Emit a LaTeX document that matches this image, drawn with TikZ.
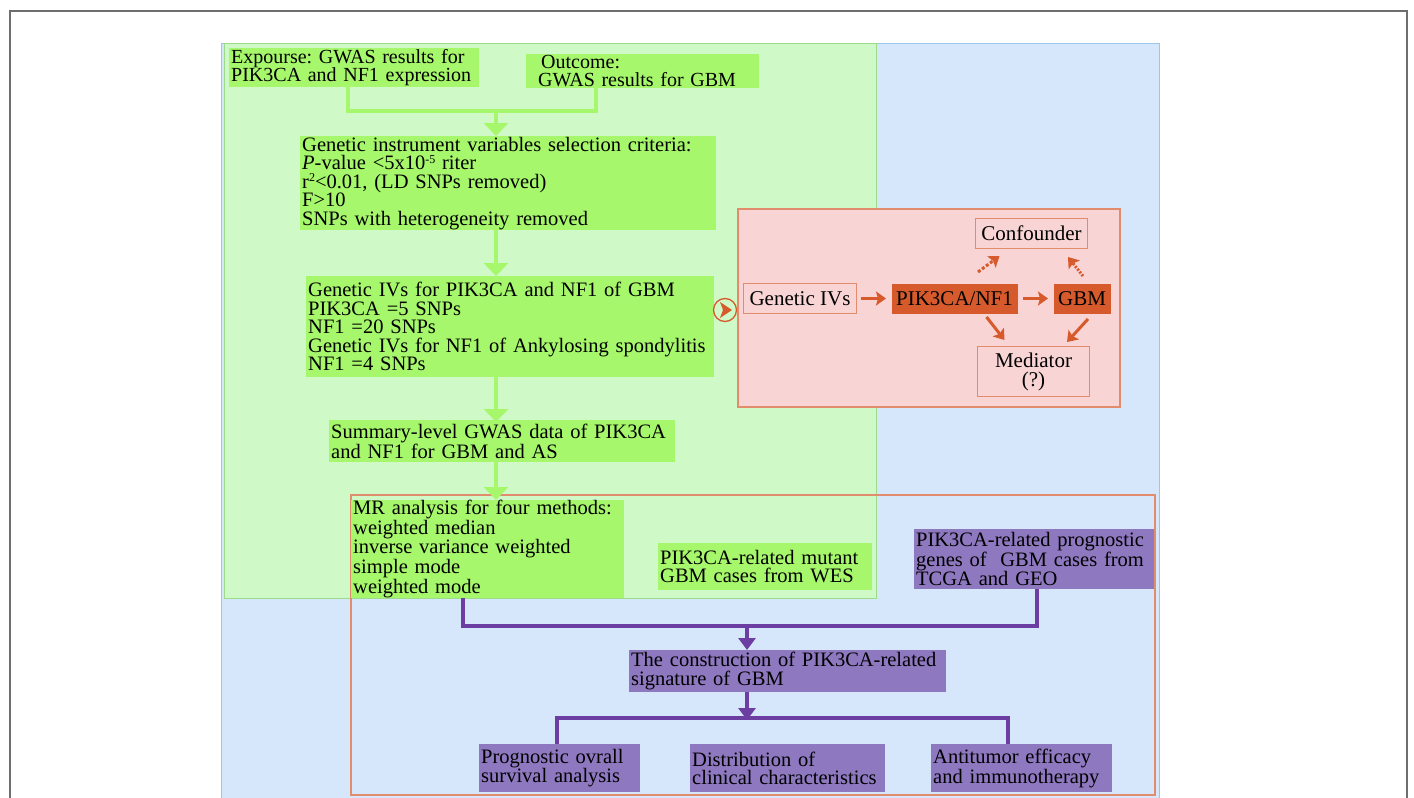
\documentclass[tikz,border=0pt]{standalone}
\usepackage{fontspec}
\setmainfont{Liberation Serif}
\usepackage{tikz}
\usetikzlibrary{arrows.meta, positioning}
\frenchspacing
\definecolor{menta}{RGB}{207, 250, 200}
\definecolor{bordementa}{RGB}{156, 219, 138}
\definecolor{lima}{RGB}{166, 247, 107}
\definecolor{cielo}{RGB}{214, 231, 251}
\definecolor{bordecielo}{RGB}{157, 198, 232}
\definecolor{rosado}{RGB}{249, 212, 212}
\definecolor{salmon}{RGB}{226, 140, 110}
\definecolor{ladrillo}{RGB}{214, 90, 43}
\definecolor{lila}{RGB}{142, 120, 192}
\definecolor{uva}{RGB}{108, 62, 162}
\definecolor{gris}{RGB}{110, 110, 110}
\newcommand{\supind}[1]{\raisebox{0.3em}{\fontsize{12}{12}\selectfont #1}}
\tikzset{
    gbox/.style={anchor=north west, fill=lima, align=left, inner xsep=2pt, inner ysep=0pt},
    pbox/.style={gbox, fill=lila},
    obox/.style={anchor=north west, draw=salmon, fill=rosado, align=center, inner sep=0pt, line width=1pt, font=\fontsize{21}{19}\selectfont},
    dbox/.style={obox, draw=none, fill=ladrillo},
    gline/.style={lima, line width=4pt},
    garr/.style={gline, -{Triangle[width=24pt, length=13pt]}},
    pline/.style={uva, line width=3.5pt},
    parr/.style={pline, -{Triangle[width=17pt, length=12pt]}},
    oarr/.style={ladrillo, line width=3pt, -{Stealth[width=14pt, length=10pt, inset=2pt]}},
    chico/.style={font=\fontsize{20}{18.5}\selectfont},
}
\begin{document}
\begin{tikzpicture}[x=1pt, y=-1pt, font=\fontsize{20.5}{18.5}\selectfont]
    \useasboundingbox (0,0) rectangle (1414,798);
    % paneles de fondo
    \draw[gris, line width=1.5pt] (10,805) -- (10,11) -- (1407,11) -- (1407,805);
    \filldraw[fill=cielo, draw=bordecielo, line width=1pt] (221,43) rectangle (1159,810);
    \filldraw[fill=menta, draw=bordementa, line width=1pt] (224,43) rectangle (876,598);
    \filldraw[fill=rosado, draw=salmon, line width=1.2pt] (738,209) rectangle (1120,407);
    \draw[salmon, line width=1.5pt] (351,495) rectangle (1155,795);

    % columna verde
    \node[gbox, chico, text width=246pt, minimum height=39pt] (expo) at (229,48) {Expourse: GWAS results for\\PIK3CA and NF1 expression};
    \node[gbox, chico, inner xsep=12pt, text width=209pt, minimum height=34pt] (outc) at (526,54) {\hspace*{3pt}Outcome:\\GWAS results for GBM};
    \node[gbox, text width=412pt, minimum height=94pt] (crit) at (300,136) {Genetic instrument variables selection criteria:\\\textit{P}-value <5x10\supind{-5} riter\\r\supind{2}<0.01, (LD SNPs removed)\\F>10\\SNPs with heterogeneity removed};
    \node[gbox, text width=404pt, minimum height=101pt] (ivs) at (306,276) {Genetic IVs for PIK3CA and NF1 of GBM\\PIK3CA =5 SNPs\\NF1 =20 SNPs\\Genetic IVs for NF1 of Ankylosing spondylitis\\NF1 =4 SNPs};
    \node[gbox, text width=342pt, minimum height=42pt] (summ) at (329,420) {Summary-level GWAS data of PIK3CA\\and NF1 for GBM and AS};
    \node[gbox, text width=269pt, minimum height=97pt] (mr) at (351,500) {MR analysis for four methods:\\weighted median\\inverse variance weighted\\simple mode\\weighted mode};
    \node[gbox, text width=210pt, minimum height=47pt] (mut) at (658,543) {PIK3CA-related mutant\\GBM cases from WES};

    % columna lila
    \node[pbox, text width=236pt, minimum height=60pt] (prog) at (914,529) {PIK3CA-related prognostic\\genes of\ \ GBM cases from\\TCGA and GEO};
    \node[pbox, text width=313pt, minimum height=42pt] (sig) at (629,650) {The construction of PIK3CA-related\\signature of GBM};
    \node[pbox, text width=157pt, minimum height=48pt] (surv) at (479,744) {Prognostic ovrall\\survival analysis};
    \node[pbox, text width=191pt, minimum height=48pt] (clin) at (690,744) {Distribution of\\clinical characteristics};
    \node[pbox, text width=177pt, minimum height=48pt] (immu) at (931,744) {Antitumor efficacy\\and immunotherapy};

    % recuadro rosado
    \node[obox, minimum width=113pt, minimum height=30pt] (givs) at (743,283) {Genetic IVs};
    \node[dbox, minimum width=126pt, minimum height=30pt] (gene) at (891,283) {PIK3CA/NF1};
    \node[dbox, minimum width=57pt, minimum height=30pt] (gbm) at (1053,283) {GBM};
    \node[obox, minimum width=112pt, minimum height=30pt] (conf) at (975,218) {Confounder};
    \node[obox, minimum width=112pt, minimum height=50pt] (medi) at (977,346) {Mediator\\(?)};
    \node[circle, draw=ladrillo, line width=1.3pt, minimum size=23pt, inner sep=0pt] (enlace) at (725,310) {};
    \fill[ladrillo] ([shift={(-5,-8)}]enlace.center) -- ([shift={(7,0)}]enlace.center) -- ([shift={(-5,8)}]enlace.center) -- ([shift={(-2,0)}]enlace.center) -- cycle;

    \draw[oarr] ([xshift=4pt]givs.east) -- ([xshift=-5pt]gene.west);
    \draw[oarr] ([xshift=5pt]gene.east) -- ([xshift=-5pt]gbm.west);
    \draw[oarr, dash pattern=on 3pt off 2pt] ([shift={(-40,-11)}]gene.north east) -- ([shift={(-32,7)}]conf.south);
    \draw[oarr, dash pattern=on 2pt off 1.5pt] ([shift={(1,-7)}]gbm.north) -- ([shift={(-20,8)}]conf.south east);
    \draw[oarr] ([shift={(32,3)}]gene.south) -- ([shift={(-29,-6)}]medi.north);
    \draw[oarr] ([shift={(6,5)}]gbm.south) -- ([shift={(-23,-4)}]medi.north east);

    % conectores verdes
    \coordinate (eje) at (496,111);
    \coordinate (jizq) at (348,111);
    \coordinate (jder) at (596,111);
    \draw[gline] (jizq |- expo.south) -- (jizq) -- (jder) -- (jder |- outc.south);
    \draw[garr] ([yshift=-2pt]eje) -- (eje |- crit.north);
    \draw[garr] ([yshift=2pt]eje |- crit.south) -- (eje |- ivs.north);
    \draw[garr] ([yshift=4pt]eje |- ivs.south) -- ([yshift=-2pt]eje |- summ.north);
    \draw[garr] ([yshift=2pt]eje |- summ.south) -- (eje |- mr.north);

    % conectores lila
    \coordinate (lizq) at (463,626);
    \coordinate (lder) at (1037,626);
    \coordinate (lmed) at (747,626);
    \draw[pline] (lizq |- mr.south) -- (lizq) -- (lder) -- (lder |- prog.south);
    \draw[parr] ([yshift=-2pt]lmed) -- (lmed |- sig.north);
    \coordinate (bmed) at (747,718);
    \coordinate (bizq) at (557,718);
    \coordinate (bder) at (1008,718);
    \draw[parr] (bmed |- sig.south) -- ([yshift=-2pt]bmed);
    \draw[pline] (bizq |- surv.north) -- (bizq) -- (bder) -- (bder |- immu.north);
\end{tikzpicture}
\end{document}
